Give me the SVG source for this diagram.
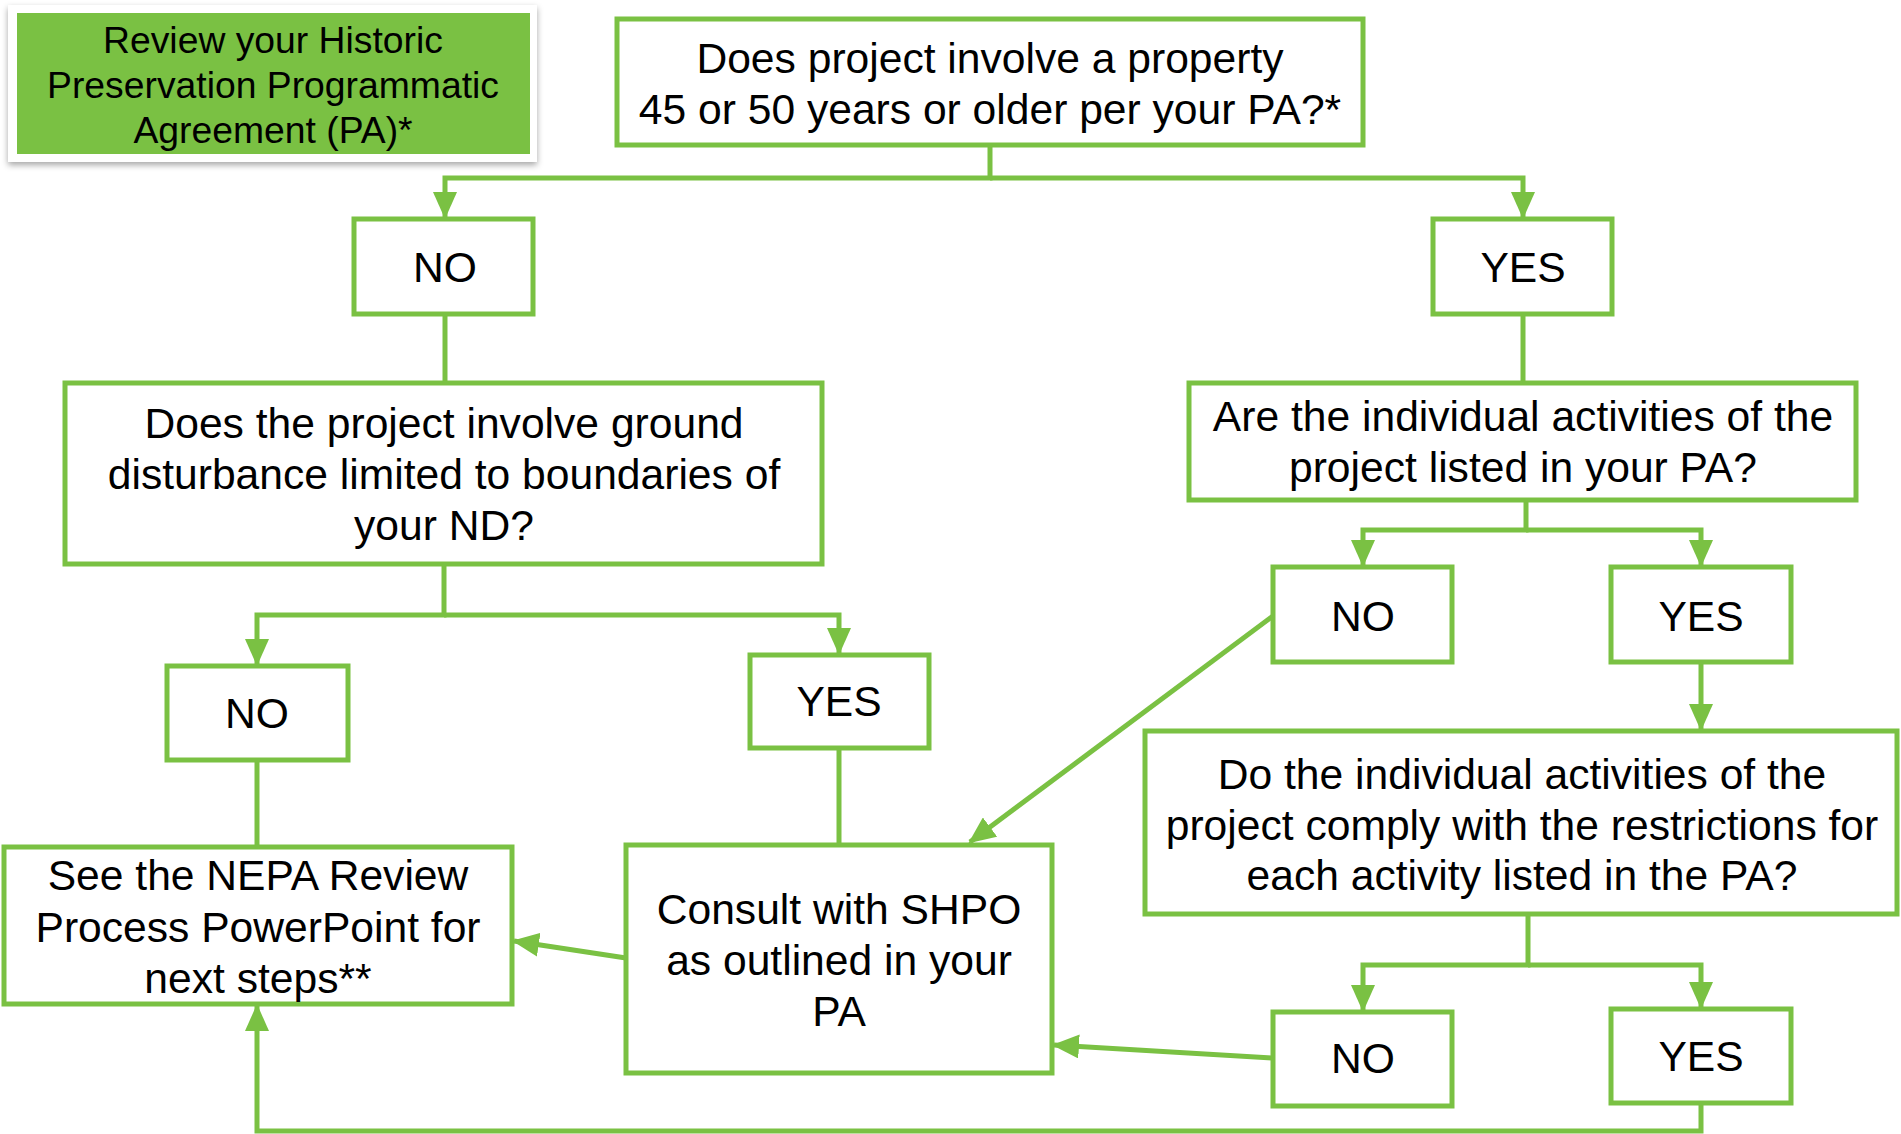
<svg xmlns="http://www.w3.org/2000/svg" width="1901" height="1134" viewBox="0 0 1901 1134">
<style>
.box{fill:#fff;stroke:#7AC143;stroke-width:5}
.t{font-family:"Liberation Sans",Arial,sans-serif;font-size:42.6px;fill:#000;text-anchor:middle}
.g{font-size:37.3px}
.c{fill:none;stroke:#7AC143;stroke-width:5}
.a{marker-end:url(#arr)}
</style>
<defs>
<marker id="arr" viewBox="0 0 27 24" refX="25" refY="12" markerWidth="27" markerHeight="24" markerUnits="userSpaceOnUse" orient="auto">
<path d="M0,0 L27,12 L0,24 z" fill="#7AC143"/>
</marker>
<filter id="sh" x="-5%" y="-10%" width="110%" height="125%">
<feDropShadow dx="0" dy="3" stdDeviation="3" flood-color="#000" flood-opacity="0.35"/>
</filter>
</defs>
<rect width="1901" height="1134" fill="#fff"/>
<g id="connectors">
<path class="c a" d="M990,145 V178 H445 V217"/>
<path class="c a" d="M990,178 H1523 V217"/>
<path class="c" d="M445,314 V383"/>
<path class="c" d="M1523,314 V383"/>
<path class="c a" d="M1526,500 V530 H1363 V565"/>
<path class="c a" d="M1526,530 H1701 V565"/>
<path class="c a" d="M444,564 V615 H257 V664"/>
<path class="c a" d="M444,615 H839 V653"/>
<path class="c" d="M257,760 V847"/>
<path class="c" d="M839,748 V845"/>
<path class="c a" d="M626,958 L514,941"/>
<path class="c a" d="M1273,616 L970,842"/>
<path class="c a" d="M1701,662 V729"/>
<path class="c a" d="M1528,914 V965 H1363 V1010"/>
<path class="c a" d="M1528,965 H1701 V1007"/>
<path class="c a" d="M1273,1058 L1054,1045"/>
<path class="c a" d="M1701,1103 V1131 H257 V1006"/>
</g>
<g id="review">
<rect x="8" y="5" width="529" height="157" fill="#fff" filter="url(#sh)"/>
<rect x="17" y="13" width="513" height="141" fill="#7AC143"/>
<text class="t g" x="273" y="53">Review your Historic</text>
<text class="t g" x="273" y="98">Preservation Programmatic</text>
<text class="t g" x="273" y="143">Agreement (PA)*</text>
</g>
<g id="q1">
<rect class="box" x="617" y="19" width="746" height="126"/>
<text class="t" x="990" y="73">Does project involve a property</text>
<text class="t" x="990" y="124">45 or 50 years or older per your PA?*</text>
</g>
<g id="no1">
<rect class="box" x="354" y="219" width="179" height="95"/>
<text class="t" x="445" y="282">NO</text>
</g>
<g id="yes1">
<rect class="box" x="1433" y="219" width="179" height="95"/>
<text class="t" x="1523" y="282">YES</text>
</g>
<g id="q2">
<rect class="box" x="65" y="383" width="757" height="181"/>
<text class="t" x="444" y="438">Does the project involve ground</text>
<text class="t" x="444" y="489">disturbance limited to boundaries of</text>
<text class="t" x="444" y="540">your ND?</text>
</g>
<g id="q3">
<rect class="box" x="1189" y="383" width="667" height="117"/>
<text class="t" x="1523" y="431">Are the individual activities of the</text>
<text class="t" x="1523" y="482">project listed in your PA?</text>
</g>
<g id="no3">
<rect class="box" x="1273" y="567" width="179" height="95"/>
<text class="t" x="1363" y="631">NO</text>
</g>
<g id="yes3">
<rect class="box" x="1611" y="567" width="180" height="95"/>
<text class="t" x="1701" y="631">YES</text>
</g>
<g id="no2">
<rect class="box" x="167" y="666" width="181" height="94"/>
<text class="t" x="257" y="728">NO</text>
</g>
<g id="yes2">
<rect class="box" x="750" y="655" width="179" height="93"/>
<text class="t" x="839" y="716">YES</text>
</g>
<g id="nepa">
<rect class="box" x="4" y="847" width="508" height="157"/>
<text class="t" x="258" y="890">See the NEPA Review</text>
<text class="t" x="258" y="942">Process PowerPoint for</text>
<text class="t" x="258" y="993">next steps**</text>
</g>
<g id="consult">
<rect class="box" x="626" y="845" width="426" height="228"/>
<text class="t" x="839" y="924">Consult with SHPO</text>
<text class="t" x="839" y="975">as outlined in your</text>
<text class="t" x="839" y="1026">PA</text>
</g>
<g id="q4">
<rect class="box" x="1145" y="731" width="752" height="183"/>
<text class="t" x="1522" y="789">Do the individual activities of the</text>
<text class="t" x="1522" y="840">project comply with the restrictions for</text>
<text class="t" x="1522" y="890">each activity listed in the PA?</text>
</g>
<g id="no4">
<rect class="box" x="1273" y="1012" width="179" height="94"/>
<text class="t" x="1363" y="1073">NO</text>
</g>
<g id="yes4">
<rect class="box" x="1611" y="1009" width="180" height="94"/>
<text class="t" x="1701" y="1071">YES</text>
</g>
</svg>
